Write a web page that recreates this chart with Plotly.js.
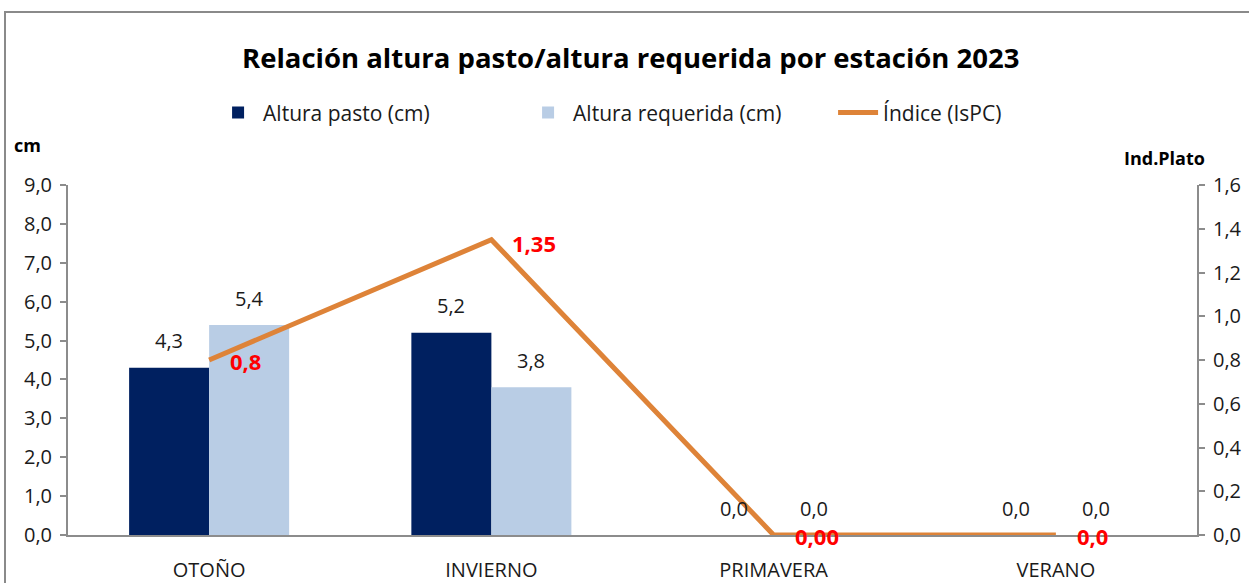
<!DOCTYPE html>
<html>
<head>
<meta charset="utf-8">
<script src="https://cdn.plot.ly/plotly-3.0.1.min.js"></script>
<style>html,body{margin:0;padding:0;background:#fff;overflow:hidden}#chart{width:1249px;height:583px}</style>
</head>
<body>
<div id="chart"></div>
<script>
const categories = ["OTOÑO", "INVIERNO", "PRIMAVERA", "VERANO"];
const alturaPasto = [4.3, 5.2, 0.0, 0.0];
const alturaRequerida = [5.4, 3.8, 0.0, 0.0];
const indice = [0.8, 1.35, 0.0, 0.0];
const indiceLabels = ["0,8", "1,35", "0,00", "0,0"];
const seriesNames = ["Altura pasto (cm)", "Altura requerida (cm)", "Índice (IsPC)"];

const FONT = '"Open Sans", sans-serif';
const GRAY = '#8c8c8c';

const fmt = v => v.toFixed(1).replace('.', ',');

const traces = [
  {type:'bar', name:seriesNames[0], x:categories, y:alturaPasto, marker:{color:'#002060'}, hoverinfo:'y'},
  {type:'bar', name:seriesNames[1], x:categories, y:alturaRequerida, marker:{color:'#B9CDE5'}, hoverinfo:'y'},
  {type:'scatter', mode:'lines', name:seriesNames[2], x:categories, y:indice, yaxis:'y2',
   line:{color:'#DE8338', width:5}, hoverinfo:'y'}
];

const annotations = [];
categories.forEach((c, i) => {
  annotations.push({x:c, y:alturaPasto[i], xref:'x', yref:'y', text:fmt(alturaPasto[i]), showarrow:false,
    xshift:-40, yshift:27, font:{family:FONT, size:20, color:'#1a1a1a'}});
  annotations.push({x:c, y:alturaRequerida[i], xref:'x', yref:'y', text:fmt(alturaRequerida[i]), showarrow:false,
    xshift:40, yshift:27, font:{family:FONT, size:20, color:'#1a1a1a'}});
});
categories.forEach((c, i) => {
  annotations.push({x:c, y:indice[i], xref:'x', yref:'y2', text:'<b>'+indiceLabels[i]+'</b>', showarrow:false,
    xanchor:'left', yanchor:'middle', xshift:19, yshift:(i===1?-3:-1), font:{family:FONT, size:22, color:'#FF0000'}});
});
annotations.push({x:-0.0496, y:1.114, xref:'paper', yref:'paper', xanchor:'left', yanchor:'middle',
  text:'<b>cm</b>', showarrow:false, font:{family:FONT, size:18, color:'#000'}});
annotations.push({x:0.9336, y:1.077, xref:'paper', yref:'paper', xanchor:'left', yanchor:'middle',
  text:'<b>Ind.Plato</b>', showarrow:false, font:{family:FONT, size:18, color:'#000'}});

const layout = {
  width:1249, height:583,
  margin:{l:68, r:52, t:185, b:48},
  paper_bgcolor:'#fff', plot_bgcolor:'#fff',
  separators:',.',
  font:{family:FONT, size:20, color:'#1a1a1a'},
  title:{text:'<b>Relación altura pasto/altura requerida por estación 2023</b>', x:0.505, xanchor:'center',
    y:0.9, yanchor:'middle', yref:'container', font:{family:FONT, size:27.5, color:'#000'}},
  barmode:'group', bargap:0.433, bargroupgap:0,
  showlegend:true,
  legend:{orientation:'h', x:0.1285, y:1.206, xanchor:'left', yanchor:'middle',
    font:{family:FONT, size:21, color:'#1a1a1a'}, itemwidth:40, entrywidthmode:'pixels', entrywidth:255,
    bgcolor:'rgba(0,0,0,0)', traceorder:'normal'},
  xaxis:{type:'category', showline:true, linecolor:GRAY, linewidth:2, ticks:'', showgrid:false, zeroline:false,
    tickfont:{family:FONT, size:20, color:'#1a1a1a'}, ticklabelstandoff:16, fixedrange:true},
  yaxis:{range:[0,9], dtick:1, tickformat:'.1f', showline:true, linecolor:GRAY, linewidth:2, ticks:'outside',
    ticklen:6, tickcolor:GRAY, tickwidth:2, showgrid:false, zeroline:false,
    tickfont:{family:FONT, size:20, color:'#1a1a1a'}, ticklabelstandoff:4},
  yaxis2:{range:[0,1.6], dtick:0.2, tickformat:'.1f', overlaying:'y', side:'right', showline:true, linecolor:GRAY,
    linewidth:2, ticks:'outside', ticklen:6, tickcolor:GRAY, tickwidth:2, showgrid:false, zeroline:false,
    tickfont:{family:FONT, size:20, color:'#1a1a1a'}, ticklabelstandoff:4},
  annotations:annotations,
  shapes:[{type:'rect', xref:'paper', yref:'paper', x0:-0.0558, x1:1.2, y0:-0.5, y1:1.494,
    line:{color:'#8a8a8a', width:2}, fillcolor:'rgba(0,0,0,0)', layer:'below'}]
};

Plotly.newPlot('chart', traces, layout, {displayModeBar:false, staticPlot:true});
</script>
</body>
</html>
